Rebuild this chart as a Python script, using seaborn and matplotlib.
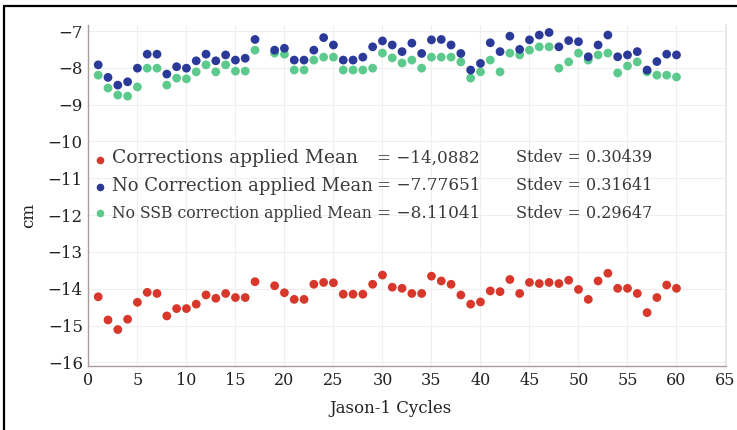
import numpy as np
import pandas as pd
import matplotlib
matplotlib.use("Agg")
import matplotlib.pyplot as plt
from matplotlib.lines import Line2D
import seaborn as sns

# ---------------- data ----------------
cycles = list(range(1, 61))
nan = np.nan
corrections_applied = [
    -14.22, -14.85, -15.11, -14.83, -14.37, -14.10, -14.13, -14.74, -14.54, -14.54,
    -14.42, -14.17, -14.26, -14.13, -14.24, -14.24, -13.81, nan, -13.92, -14.11,
    -14.29, -14.29, -13.88, -13.83, -13.84, -14.15, -14.15, -14.15, -13.88, -13.63,
    -13.96, -13.99, -14.13, -14.13, -13.66, -13.79, -13.88, -14.17, -14.42, -14.36,
    -14.06, -14.08, -13.75, -14.13, -13.83, -13.86, -13.83, -13.86, -13.77, -14.02,
    -14.29, -13.79, -13.58, -13.99, -13.99, -14.13, -14.65, -14.24, -13.90, -13.99]
no_correction = [
    -7.92, -8.26, -8.47, -8.38, -8.01, -7.63, -7.63, -8.17, -7.97, -8.01,
    -7.81, -7.63, -7.81, -7.65, -7.79, -7.74, -7.23, nan, -7.52, -7.47,
    -7.79, -7.79, -7.52, -7.18, -7.38, -7.79, -7.79, -7.71, -7.43, -7.27,
    -7.38, -7.56, -7.33, -7.61, -7.24, -7.23, -7.38, -7.61, -8.06, -7.88,
    -7.32, -7.56, -7.14, -7.50, -7.24, -7.11, -7.04, -7.43, -7.26, -7.29,
    -7.70, -7.38, -7.11, -7.70, -7.65, -7.56, -8.06, -7.83, -7.63, -7.65]
no_ssb_correction = [
    -8.20, -8.55, -8.74, -8.77, -8.52, -8.01, -8.01, -8.47, -8.28, -8.30,
    -8.11, -7.92, -8.11, -7.92, -8.09, -8.09, -7.52, nan, -7.60, -7.63,
    -8.06, -8.06, -7.79, -7.71, -7.71, -8.06, -8.06, -8.06, -8.01, -7.60,
    -7.73, -7.87, -7.79, -8.01, -7.71, -7.71, -7.71, -7.84, -8.28, -8.11,
    -7.79, -8.11, -7.60, -7.65, -7.52, -7.43, -7.43, -8.01, -7.84, -7.60,
    -7.79, -7.65, -7.60, -8.14, -7.95, -7.84, -8.11, -8.20, -8.20, -8.25]

series_names = ["Corrections applied", "No SSB correction applied", "No Correction applied"]
series_colors = ["#d8382b", "#5cc98d", "#2b3a98"]
legend_names = ["Corrections applied Mean", "No Correction applied Mean",
                "No SSB correction applied Mean"]
legend_means = ["= \u221214,0882", "= \u22127.77651", "= \u22128.11041"]
legend_stdevs = ["Stdev = 0.30439", "Stdev = 0.31641", "Stdev = 0.29647"]
legend_colors = ["#d8382b", "#2b3a98", "#5cc98d"]
y_ticks = [-16, -15, -14, -13, -12, -11, -10, -9, -8, -7]
x_ticks = list(range(0, 70, 5))

# ---------------- figure ----------------
sns.set_theme(style="white")
plt.rcParams["font.family"] = ["DejaVu Serif"]
plt.rcParams["axes.unicode_minus"] = True

W, H = 737, 430
AX_L, AX_R, AX_T, AX_B = 88.4, 725.5, 25, 366
fig = plt.figure(figsize=(W / 100, H / 100), dpi=100)
fig.patch.set_facecolor("white")
ax = fig.add_axes([AX_L / W, 1 - AX_B / H, (AX_R - AX_L) / W, (AX_B - AX_T) / H])

df = pd.concat([
    pd.DataFrame({"cycle": cycles, "value": corrections_applied, "series": series_names[0]}),
    pd.DataFrame({"cycle": cycles, "value": no_ssb_correction, "series": series_names[1]}),
    pd.DataFrame({"cycle": cycles, "value": no_correction, "series": series_names[2]}),
]).dropna()

sns.scatterplot(data=df, x="cycle", y="value", hue="series",
                palette=dict(zip(series_names, series_colors)),
                s=40, linewidth=0, legend=False, ax=ax, zorder=3)

ax.set_xlim(0, 65)
ax.set_ylim(-16.10, -6.837)
ax.set_xticks(x_ticks)
ax.set_yticks(y_ticks)
ax.tick_params(axis="both", length=0, labelsize=12, colors="#222222")
ax.tick_params(axis="x", labelsize=11.5, pad=4)
ax.tick_params(axis="y", pad=4)
ax.grid(True, color="#efefef", linewidth=0.8)
ax.set_axisbelow(True)
for side in ["left", "bottom"]:
    ax.spines[side].set_color("#a89c9c")
    ax.spines[side].set_linewidth(1.0)
ax.spines["top"].set_visible(False)
ax.spines["right"].set_color("#e4e4e4")

aw, ah = AX_R - AX_L, AX_B - AX_T
ax.set_xlabel("Jason-1 Cycles", fontsize=12, color="#222222")
ax.xaxis.set_label_coords((390 - AX_L) / aw, (AX_B - 400) / ah)
ax.set_ylabel("cm", fontsize=12, color="#222222")
ax.yaxis.set_label_coords((37 - AX_L) / aw, (AX_B - 215) / ah)

# outer frame (top and left edges visible)
fig.add_artist(Line2D([4 / W, 1], [1 - 6 / H, 1 - 6 / H], transform=fig.transFigure,
                      color="black", linewidth=1.6))
fig.add_artist(Line2D([4 / W, 4 / W], [0, 1 - 6 / H], transform=fig.transFigure,
                      color="black", linewidth=1.6))

# ---------------- in-plot legend ----------------
fig.canvas.draw()
renderer = fig.canvas.get_renderer()


def fit_text(x0, x1, y, s, size_max=13.5, color="#3a3a3a"):
    t = fig.text(x0 / W, 1 - y / H, s, ha="left", va="center", fontsize=12, color=color)
    w = t.get_window_extent(renderer).width
    t.set_fontsize(min(size_max, 12 * (x1 - x0) / w))
    return t


row_y = [158, 186, 213]
marker_y = [160, 187, 213]
for i in range(3):
    fig.add_artist(Line2D([100 / W], [1 - marker_y[i] / H], transform=fig.transFigure,
                          marker="o", markersize=5.5, linestyle="none",
                          color=legend_colors[i], markeredgewidth=0))
    fit_text(112, 372, row_y[i], legend_names[i])
    fit_text(377, 480, row_y[i], legend_means[i])
    fit_text(516, 652, row_y[i], legend_stdevs[i])

fig.savefig("out.png", dpi=100, facecolor="white")
